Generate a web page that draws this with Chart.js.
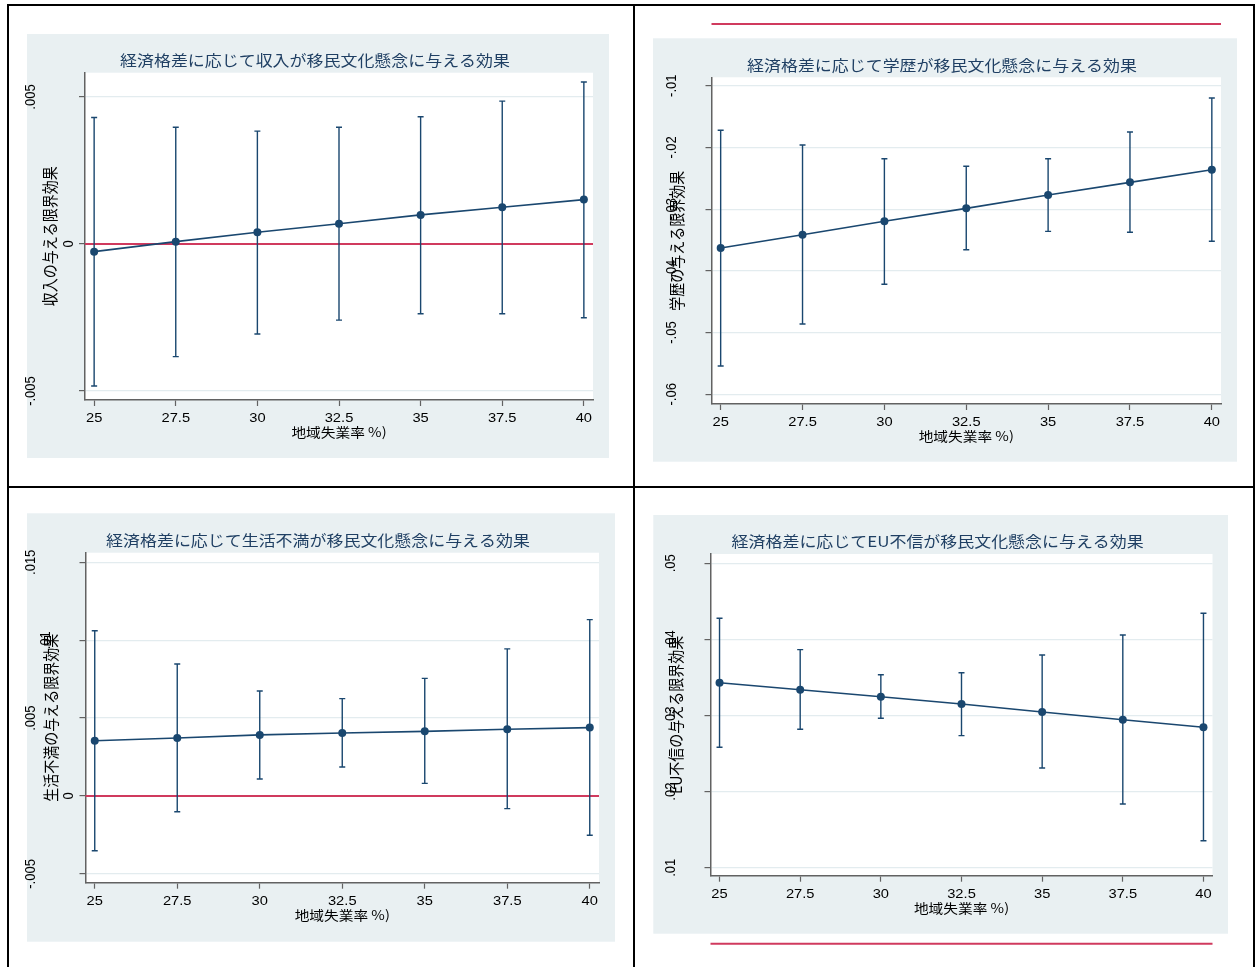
<!DOCTYPE html>
<html>
<head>
<meta charset="utf-8">
<script src="https://cdn.jsdelivr.net/npm/chart.js@4.4.1/dist/chart.umd.min.js"></script>
<style>
html,body{margin:0;padding:0;background:#fff;}
#page{position:relative;width:1255px;height:967px;overflow:hidden;background:#fff;}
#page canvas{position:absolute;left:0;top:0;}
.ln{position:absolute;background:#000;z-index:10;}
</style>
</head>
<body>
<div id="page">
  <canvas id="c1" width="1255" height="967"></canvas>
  <canvas id="c2" width="1255" height="967"></canvas>
  <canvas id="c3" width="1255" height="967"></canvas>
  <canvas id="c4" width="1255" height="967"></canvas>
  <div class="ln" style="left:7px;top:4px;width:1248px;height:2px"></div>
  <div class="ln" style="left:7px;top:4px;width:2px;height:963px"></div>
  <div class="ln" style="left:633px;top:4px;width:2px;height:963px"></div>
  <div class="ln" style="left:7px;top:486px;width:1248px;height:2px"></div>
  <div class="ln" style="left:1253px;top:4px;width:2px;height:963px"></div>
</div>
<script>
// ---------- data ----------
const xValues = [25, 27.5, 30, 32.5, 35, 37.5, 40];
const xTickLabels = ['25', '27.5', '30', '32.5', '35', '37.5', '40'];
const xTitle = '地域失業率 %)';

const incomeTitle = '経済格差に応じて収入が移民文化懸念に与える効果';
const incomeYTitle = '収入の与える限界効果';
const incomeEffect = [-0.00026, 0.00008, 0.00040, 0.00069, 0.00099, 0.00125, 0.00151];
const incomeUpper  = [0.00430, 0.00397, 0.00384, 0.00397, 0.00433, 0.00486, 0.00551];
const incomeLower  = [-0.00483, -0.00383, -0.00306, -0.00259, -0.00237, -0.00237, -0.00251];
const incomeYTicks = [-0.005, 0, 0.005];
const incomeYTickLabels = ['-.005', '0', '.005'];

const eduTitle = '経済格差に応じて学歴が移民文化懸念に与える効果';
const eduYTitle = '学歴の与える限界効果';
const eduEffect = [-0.03630, -0.03414, -0.03197, -0.02987, -0.02771, -0.02566, -0.02361];
const eduUpper  = [-0.01723, -0.01961, -0.02183, -0.02306, -0.02183, -0.01750, -0.01199];
const eduLower  = [-0.05542, -0.04861, -0.04218, -0.03657, -0.03360, -0.03375, -0.03521];
const eduYTicks = [-0.06, -0.05, -0.04, -0.03, -0.02, -0.01];
const eduYTickLabels = ['-.06', '-.05', '-.04', '-.03', '-.02', '-.01'];

const dissatTitle = '経済格差に応じて生活不満が移民文化懸念に与える効果';
const dissatYTitle = '生活不満の与える限界効果';
const dissatEffect = [0.00355, 0.00372, 0.00392, 0.00404, 0.00415, 0.00428, 0.00439];
const dissatUpper  = [0.01061, 0.00847, 0.00674, 0.00625, 0.00755, 0.00944, 0.01132];
const dissatLower  = [-0.00351, -0.00101, 0.00109, 0.00186, 0.00081, -0.00081, -0.00252];
const dissatYTicks = [-0.005, 0, 0.005, 0.01, 0.015];
const dissatYTickLabels = ['-.005', '0', '.005', '.01', '.015'];

const euTitle = '経済格差に応じてEU不信が移民文化懸念に与える効果';
const euYTitle = 'EU不信の与える限界効果';
const euEffect = [0.03431, 0.03339, 0.03247, 0.03151, 0.03046, 0.02945, 0.02845];
const euUpper  = [0.04277, 0.03865, 0.03536, 0.03562, 0.03795, 0.04058, 0.04343];
const euLower  = [0.02582, 0.02819, 0.02963, 0.02735, 0.02310, 0.01837, 0.01355];
const euYTicks = [0.01, 0.02, 0.03, 0.04, 0.05];
const euYTickLabels = ['.01', '.02', '.03', '.04', '.05'];

// ---------- layout / style ----------
const W = 1255, H = 967;
const NAVY = '#1a476f';
const RED = '#d03a5e';
const BG = '#e9f0f2';
const GRID = '#e3ecef';
const AXIS = '#626262';
const TITLE_COLOR = '#1f3f63';
const SX = 1.13; // horizontal stretch of the original rendering
const LATIN = '"Liberation Sans", Arial, sans-serif';
const CJK = '"Noto Sans CJK JP", "Noto Sans", sans-serif';

const panels = [
  {id:'c1', title: incomeTitle, yTitle: incomeYTitle, effect: incomeEffect, upper: incomeUpper, lower: incomeLower,
   yTicks: incomeYTicks, yTickLabels: incomeYTickLabels, yMin: -0.005306, yMax: 0.005826,
   plot: [85, 72.7, 593, 400], bg: [27, 34, 609, 458]},
  {id:'c2', title: eduTitle, yTitle: eduYTitle, effect: eduEffect, upper: eduUpper, lower: eduLower,
   yTicks: eduYTicks, yTickLabels: eduYTickLabels, yMin: -0.06157, yMax: -0.00864,
   plot: [711.5, 77.3, 1221, 404], bg: [653, 38.3, 1237, 461.7]},
  {id:'c3', title: dissatTitle, yTitle: dissatYTitle, effect: dissatEffect, upper: dissatUpper, lower: dissatLower,
   yTicks: dissatYTicks, yTickLabels: dissatYTickLabels, yMin: -0.005565, yMax: 0.015616,
   plot: [85.5, 552.7, 599, 882.7], bg: [27, 513.3, 615, 941.7]},
  {id:'c4', title: euTitle, yTitle: euYTitle, effect: euEffect, upper: euUpper, lower: euLower,
   yTicks: euYTicks, yTickLabels: euYTickLabels, yMin: 0.00895, yMax: 0.05122,
   plot: [710.5, 554, 1212.5, 875.7], bg: [653.3, 515, 1228, 933.7]}
];

function drawText(ctx, text, x, y, font, color, rot) {
  ctx.save();
  ctx.translate(x, y);
  ctx.scale(SX, 1);
  if (rot) ctx.rotate(rot);
  ctx.font = font;
  ctx.fillStyle = color;
  ctx.textAlign = 'center';
  ctx.textBaseline = 'middle';
  ctx.fillText(text, 0, 0);
  ctx.restore();
}

function yLabelOffset(label) {
  const digits = (label.match(/[0-9]/g) || []).length;
  return digits <= 1 ? 16.5 : (digits === 2 ? 40 : 54.5);
}

const stataPlugin = {
  id: 'stata',
  beforeDraw(chart) {
    const p = chart.options.plugins.stata.panel;
    const ctx = chart.ctx, a = chart.chartArea;
    ctx.save();
    ctx.fillStyle = BG;
    ctx.fillRect(p.bg[0], p.bg[1], p.bg[2] - p.bg[0], p.bg[3] - p.bg[1]);
    ctx.fillStyle = '#ffffff';
    ctx.fillRect(a.left, a.top, a.right - a.left, a.bottom - a.top);
    ctx.restore();
  },
  beforeDatasetsDraw(chart) {
    const p = chart.options.plugins.stata.panel;
    const ctx = chart.ctx, a = chart.chartArea;
    const xs = chart.scales.x, ys = chart.scales.y;
    ctx.save();
    // zero reference line
    const y0 = ys.getPixelForValue(0);
    ctx.strokeStyle = RED;
    ctx.lineWidth = 2;
    ctx.beginPath();
    ctx.moveTo(a.left, y0);
    ctx.lineTo(a.right, y0);
    ctx.stroke();
    // confidence interval caps
    ctx.strokeStyle = NAVY;
    ctx.lineWidth = 1.4;
    for (let i = 0; i < xValues.length; i++) {
      const x = xs.getPixelForValue(xValues[i]);
      const yu = ys.getPixelForValue(p.upper[i]);
      const yl = ys.getPixelForValue(p.lower[i]);
      ctx.beginPath();
      ctx.moveTo(x, yu); ctx.lineTo(x, yl);
      ctx.moveTo(x - 3, yu); ctx.lineTo(x + 3, yu);
      ctx.moveTo(x - 3, yl); ctx.lineTo(x + 3, yl);
      ctx.stroke();
    }
    ctx.restore();
  },
  afterDraw(chart) {
    const p = chart.options.plugins.stata.panel;
    const ctx = chart.ctx, a = chart.chartArea;
    const xs = chart.scales.x, ys = chart.scales.y;
    // x tick labels
    xs.ticks.forEach((t, i) => {
      drawText(ctx, xTickLabels[i], xs.getPixelForValue(t.value), a.bottom + 18.3,
               '13px ' + LATIN, '#000', 0);
    });
    // y tick labels (vertical)
    ys.ticks.forEach((t, i) => {
      const lab = p.yTickLabels[i];
      drawText(ctx, lab, a.left - yLabelOffset(lab), ys.getPixelForValue(t.value),
               '13px ' + LATIN, '#000', -Math.PI / 2);
    });
    // axis titles
    drawText(ctx, xTitle, (a.left + a.right) / 2, a.bottom + 32.5, '13px ' + CJK, '#000', 0);
    drawText(ctx, p.yTitle, a.left - 35, (a.top + a.bottom) / 2, '14px ' + CJK, '#000', -Math.PI / 2);
    // chart title
    drawText(ctx, p.title, (p.bg[0] + p.bg[2]) / 2 - 3, a.top - 12.3, '15px ' + CJK, TITLE_COLOR, 0);
  }
};

panels.forEach(p => {
  new Chart(document.getElementById(p.id), {
    type: 'line',
    data: {
      datasets: [{
        data: xValues.map((x, i) => ({x: x, y: p.effect[i]})),
        borderColor: NAVY,
        borderWidth: 1.6,
        pointRadius: 4,
        pointBackgroundColor: NAVY,
        pointBorderColor: NAVY,
        pointBorderWidth: 0,
        tension: 0,
        fill: false,
        clip: false
      }]
    },
    options: {
      responsive: false,
      animation: false,
      devicePixelRatio: 1,
      events: [],
      layout: {
        padding: {
          left: p.plot[0] - 10,
          top: p.plot[1],
          right: W - p.plot[2],
          bottom: H - p.plot[3] - 10
        }
      },
      plugins: {
        legend: {display: false},
        title: {display: false},
        tooltip: {enabled: false},
        stata: {panel: p}
      },
      scales: {
        x: {
          type: 'linear',
          min: 24.72,
          max: 40.28,
          afterBuildTicks: s => { s.ticks = xValues.map(v => ({value: v})); },
          afterFit: s => { s.height = 10; },
          ticks: {display: false},
          grid: {drawOnChartArea: false, drawTicks: true, tickLength: 6, tickColor: AXIS, tickWidth: 1.2},
          border: {display: true, color: AXIS, width: 1.5}
        },
        y: {
          type: 'linear',
          min: p.yMin,
          max: p.yMax,
          afterBuildTicks: s => { s.ticks = p.yTicks.map(v => ({value: v})); },
          afterFit: s => { s.width = 10; },
          ticks: {display: false},
          grid: {drawOnChartArea: true, color: GRID, lineWidth: 1.2, drawTicks: true, tickLength: 6, tickColor: AXIS, tickWidth: 1.2},
          border: {display: true, color: AXIS, width: 1.5}
        }
      }
    },
    plugins: [stataPlugin]
  });
});
</script>
</body>
</html>
